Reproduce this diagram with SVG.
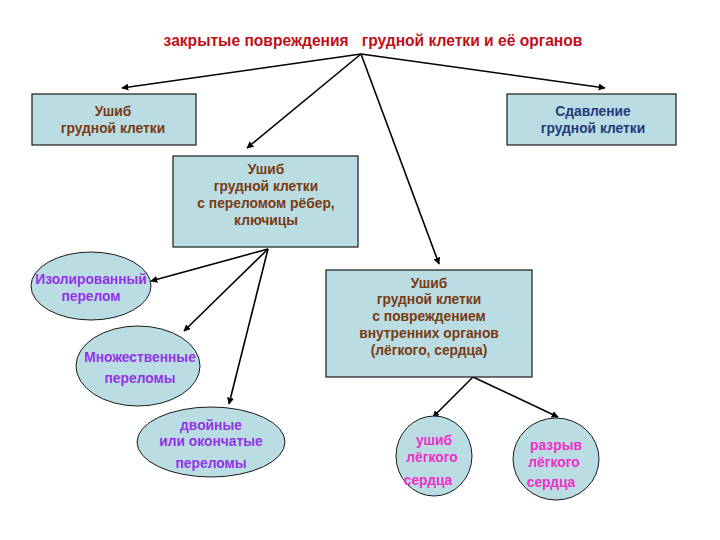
<svg xmlns="http://www.w3.org/2000/svg" width="720" height="540" viewBox="0 0 720 540">
<defs>
<style>
text{font-family:"Liberation Sans",Arial,sans-serif;font-weight:bold;font-size:13.8px;text-anchor:middle}
.box{fill:#b9dde3;stroke:#1a1a1a;stroke-width:1.2}
.ell{fill:#b9dde3;stroke:#1a1a1a;stroke-width:1}
.br{fill:#7a3a12}
.nv{fill:#23397a}
.pu{fill:#9433e6}
.pk{fill:#f02ec8}
.ti{fill:#c0101a;font-size:15.6px}
.c{stroke:#000;stroke-width:1.6;fill:none;marker-end:url(#ah)}
</style>
<marker id="ah" viewBox="0 0 10 10" refX="9" refY="5" markerWidth="7" markerHeight="7" orient="auto" markerUnits="userSpaceOnUse"><path d="M0,0 L10,5 L0,10 z" fill="#000"/></marker>
</defs>
<rect width="720" height="540" fill="#fff"/>
<text class="ti" x="373" y="46" xml:space="preserve">закрытые повреждения   грудной клетки и её органов</text>
<g id="connectors">
<path class="c" d="M361,54 L122,88"/>
<path class="c" d="M361,54 L605,88"/>
<path class="c" d="M361,54 L247,148"/>
<path class="c" d="M361,54 L439,264"/>
<path class="c" d="M268,249 L151,281"/>
<path class="c" d="M268,249 L184,331"/>
<path class="c" d="M268,249 L229,404"/>
<path class="c" d="M473,377 L433,417"/>
<path class="c" d="M473,377 L558,417"/>
</g>
<g id="n1"><rect class="box" x="32" y="94" width="164" height="51"/>
<text class="br" x="113" y="116">Ушиб</text><text class="br" x="113" y="133">грудной клетки</text></g>
<g id="n2"><rect class="box" x="507" y="94" width="169" height="51"/>
<text class="nv" x="593" y="116">Сдавление</text><text class="nv" x="593" y="133">грудной клетки</text></g>
<g id="n3"><rect class="box" x="173" y="156" width="185" height="91"/>
<text class="br" x="266" y="174">Ушиб</text><text class="br" x="266" y="191">грудной клетки</text><text class="br" x="266" y="208">с переломом рёбер,</text><text class="br" x="266" y="225">ключицы</text></g>
<g id="n4"><rect class="box" x="326" y="270" width="206" height="107"/>
<text class="br" x="429" y="288">Ушиб</text><text class="br" x="429" y="304">грудной клетки</text><text class="br" x="429" y="321">с повреждением</text><text class="br" x="429" y="338">внутренних органов</text><text class="br" x="429" y="355">(лёгкого, сердца)</text></g>
<g id="n5"><ellipse class="ell" cx="91" cy="286" rx="60" ry="34"/>
<text class="pu" x="91" y="284">Изолированный</text><text class="pu" x="91" y="301">перелом</text></g>
<g id="n6"><ellipse class="ell" cx="138" cy="366" rx="62" ry="40"/>
<text class="pu" x="140" y="362">Множественные</text><text class="pu" x="140" y="383">переломы</text></g>
<g id="n7"><ellipse class="ell" cx="211" cy="442" rx="74" ry="35"/>
<text class="pu" x="211" y="430">двойные</text><text class="pu" x="211" y="446">или окончатые</text><text class="pu" x="211" y="468">переломы</text></g>
<g id="n8"><ellipse class="ell" cx="434" cy="456" rx="38" ry="40"/>
<text class="pk" x="434" y="445">ушиб</text><text class="pk" x="432" y="462">лёгкого</text><text class="pk" x="428" y="485">сердца</text></g>
<g id="n9"><ellipse class="ell" cx="556" cy="459" rx="43" ry="41"/>
<text class="pk" x="556" y="450">разрыв</text><text class="pk" x="554" y="467">лёгкого</text><text class="pk" x="551" y="487">сердца</text></g>
</svg>
